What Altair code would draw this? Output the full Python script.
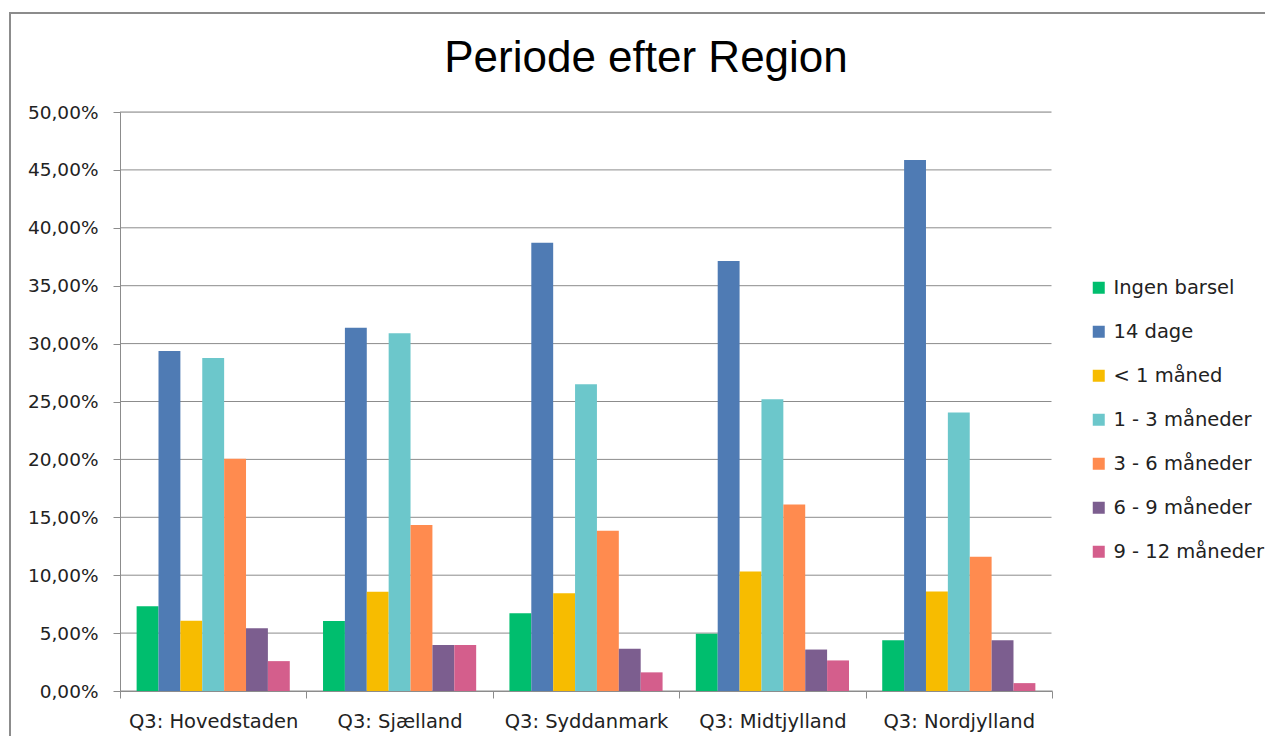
import altair as alt
import pandas as pd

regions = ["Q3: Hovedstaden", "Q3: Sjælland", "Q3: Syddanmark", "Q3: Midtjylland", "Q3: Nordjylland"]
series = ["Ingen barsel", "14 dage", "< 1 måned", "1 - 3 måneder", "3 - 6 måneder", "6 - 9 måneder", "9 - 12 måneder"]
colors = ["#00BE6E", "#4F7BB4", "#F7BC00", "#6CC7CB", "#FF8B4F", "#7C5E8F", "#D45E8C"]

ingen_barsel = [0.0732, 0.0604, 0.0671, 0.0495, 0.0439]
dage_14 = [0.2936, 0.3137, 0.3871, 0.3713, 0.4585]
under_1_maaned = [0.0606, 0.0858, 0.0844, 0.1033, 0.0860]
maaned_1_3 = [0.2876, 0.3089, 0.2648, 0.2520, 0.2406]
maaned_3_6 = [0.2005, 0.1434, 0.1384, 0.1610, 0.1160]
maaned_6_9 = [0.0542, 0.0397, 0.0365, 0.0358, 0.0439]
maaned_9_12 = [0.0258, 0.0397, 0.0161, 0.0264, 0.0068]

values = [ingen_barsel, dage_14, under_1_maaned, maaned_1_3, maaned_3_6, maaned_6_9, maaned_9_12]
y_ticks = [0, 0.05, 0.10, 0.15, 0.20, 0.25, 0.30, 0.35, 0.40, 0.45, 0.50]
title_text = "Periode efter Region"

rows = []
for s, vals in zip(series, values):
    for r, v in zip(regions, vals):
        rows.append({"Region": r, "Serie": s, "Andel": v})
df = pd.DataFrame(rows)

AX = "#8C8C8C"
FONT = "DejaVu Sans"

y_scale = alt.Scale(domain=[0, 0.5], nice=False)

bars = alt.Chart(df).mark_bar().encode(
    x=alt.X("Region:N", sort=regions, title=None,
            scale=alt.Scale(paddingInner=0, paddingOuter=0),
            axis=alt.Axis(labelAngle=0, labelFont=FONT, labelFontSize=19.5, labelColor="#222222",
                          labelPadding=14, tickBand="extent", tickSize=7, tickColor=AX,
                          domainColor=AX, grid=False)),
    xOffset=alt.XOffset("Serie:N", sort=series,
                        scale=alt.Scale(paddingInner=0, paddingOuter=0.76)),
    y=alt.Y("Andel:Q", title=None, scale=y_scale,
            axis=alt.Axis(values=y_ticks, labelExpr="replace(format(datum.value, '.2%'), '.', ',')",
                          labelFont=FONT, labelFontSize=18.5, labelColor="#222222", labelPadding=15,
                          tickSize=7, tickColor=AX, domainColor=AX, grid=False)),
    color=alt.Color("Serie:N", sort=series, scale=alt.Scale(domain=series, range=colors),
                    legend=alt.Legend(title=None, orient="none", legendX=969, legendY=166,
                                      symbolType="square", symbolSize=144, symbolStrokeWidth=0,
                                      labelFont=FONT, labelFontSize=19.5, labelColor="#222222",
                                      rowPadding=23, labelOffset=5, padding=0)),
)

grid = alt.Chart(pd.DataFrame({"Andel": y_ticks})).mark_rule(color=AX, strokeWidth=1).encode(
    y=alt.Y("Andel:Q", scale=y_scale)
)

border = alt.Chart(pd.DataFrame({"a": [0]})).mark_rect(
    fillOpacity=0, stroke="#8C8C8C", strokeWidth=2
).encode(x=alt.value(-110), x2=alt.value(1200), y=alt.value(-99), y2=alt.value(700))

# white cover over the stray right-edge line of the plot frame
cover = alt.Chart(pd.DataFrame({"a": [0]})).mark_rule(color="white", strokeWidth=3).encode(
    x=alt.value(933), y=alt.value(-2), y2=alt.value(578)
)

title = alt.Chart(pd.DataFrame({"t": [title_text]})).mark_text(
    font="Liberation Sans", fontSize=44, color="#000000", baseline="alphabetic", align="center"
).encode(text="t:N", x=alt.value(526), y=alt.value(-40))

chart = alt.layer(border, grid, bars, cover, title).properties(
    width=932, height=579,
    padding={"left": 112, "top": 104, "right": 213, "bottom": 45},
    autosize=alt.AutoSizeParams(type="none"),
).configure_view(stroke="transparent", strokeWidth=0).configure(background="white")

chart.save("out.html", embed_options={"renderer": "svg", "actions": False})
